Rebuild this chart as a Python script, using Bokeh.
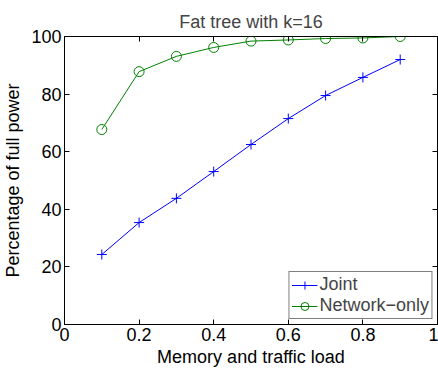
from bokeh.plotting import figure
from bokeh.models import LinearAxis, Range1d, Legend, LegendItem, FixedTicker
from bokeh.embed import file_html
from bokeh.resources import INLINE

load = [0.1, 0.2, 0.3, 0.4, 0.5, 0.6, 0.7, 0.8, 0.9]
joint = [24.3, 35.4, 43.8, 53.1, 62.5, 71.5, 79.5, 85.8, 92.0]
network_only = [67.7, 87.8, 93.1, 96.2, 98.4, 98.8, 99.3, 99.5, 100.0]
x_ticks = [0, 0.2, 0.4, 0.6, 0.8, 1]
y_ticks = [0, 20, 40, 60, 80, 100]

FONT = "Liberation Sans"
FS = "18px"

p = figure(width=438, height=369, output_backend="svg", toolbar_location=None,
           x_range=Range1d(0, 1), y_range=Range1d(0, 100),
           min_border_left=64, min_border_right=1, min_border_top=36, min_border_bottom=44,
           x_axis_label="Memory and traffic load", y_axis_label="Percentage of full power")
p.title.text = "Fat tree with k=16"
p.title.align = "center"
p.title.text_font = FONT
p.title.text_font_size = FS
p.title.text_font_style = "normal"
p.xgrid.visible = False
p.ygrid.visible = False
p.outline_line_color = "black"
p.outline_line_width = 1
p.background_fill_color = "white"
p.border_fill_color = "white"

for ax in (p.xaxis[0], p.yaxis[0]):
    ax.major_tick_in = 5
    ax.major_tick_out = 0
    ax.minor_tick_line_color = None
    ax.axis_line_color = "black"
    ax.major_tick_line_color = "black"
    ax.major_label_text_font = FONT
    ax.major_label_text_font_size = FS
    ax.major_label_text_color = "black"
    ax.axis_label_text_font = FONT
    ax.axis_label_text_font_size = FS
    ax.axis_label_text_font_style = "normal"
    ax.axis_label_text_color = "black"
p.xaxis[0].ticker = FixedTicker(ticks=x_ticks)
p.yaxis[0].ticker = FixedTicker(ticks=y_ticks)
p.xaxis[0].major_label_overrides = {1: "1", 0: "0"}
p.xaxis[0].major_label_standoff = 3
p.xaxis[0].axis_label_standoff = 3
p.yaxis[0].major_label_standoff = 3
p.yaxis[0].axis_label_standoff = 5

# right and top ticks (MATLAB box style), no labels, drawn on the frame edge
ry = LinearAxis(ticker=FixedTicker(ticks=y_ticks), major_tick_in=5, major_tick_out=0,
                minor_tick_line_color=None, major_label_standoff=0, axis_label_standoff=0,
                major_label_overrides={t: "" for t in y_ticks},
                axis_line_color="black", fixed_location=1)
p.add_layout(ry, "right")
tx = LinearAxis(ticker=FixedTicker(ticks=x_ticks), major_tick_in=5, major_tick_out=0,
                minor_tick_line_color=None, major_label_standoff=0, axis_label_standoff=0,
                major_label_overrides={t: "" for t in x_ticks},
                axis_line_color="black", fixed_location=100)
p.add_layout(tx, "above")

l1 = p.line(load, joint, color="#0000ff", line_width=1)
m1 = p.scatter(load, joint, marker="cross", size=10, line_color="#0000ff", line_width=1)
l2 = p.line(load, network_only, color="#008000", line_width=1)
m2 = p.scatter(load, network_only, marker="circle", size=10, line_color="#008000",
               fill_color=None, line_width=1)

legend = Legend(items=[LegendItem(label="Joint", renderers=[l1, m1]),
                       LegendItem(label="Network\u2212only", renderers=[l2, m2])],
                location="bottom_right")
legend.label_text_font = FONT
legend.label_text_font_size = FS
legend.border_line_color = "black"
legend.border_line_width = 1
legend.margin = 5
legend.padding = 2
legend.spacing = 0
legend.glyph_width = 26
legend.label_standoff = 2
legend.label_height = 20
legend.background_fill_alpha = 1
p.add_layout(legend)

open("out.html", "w").write(file_html(p, INLINE))
